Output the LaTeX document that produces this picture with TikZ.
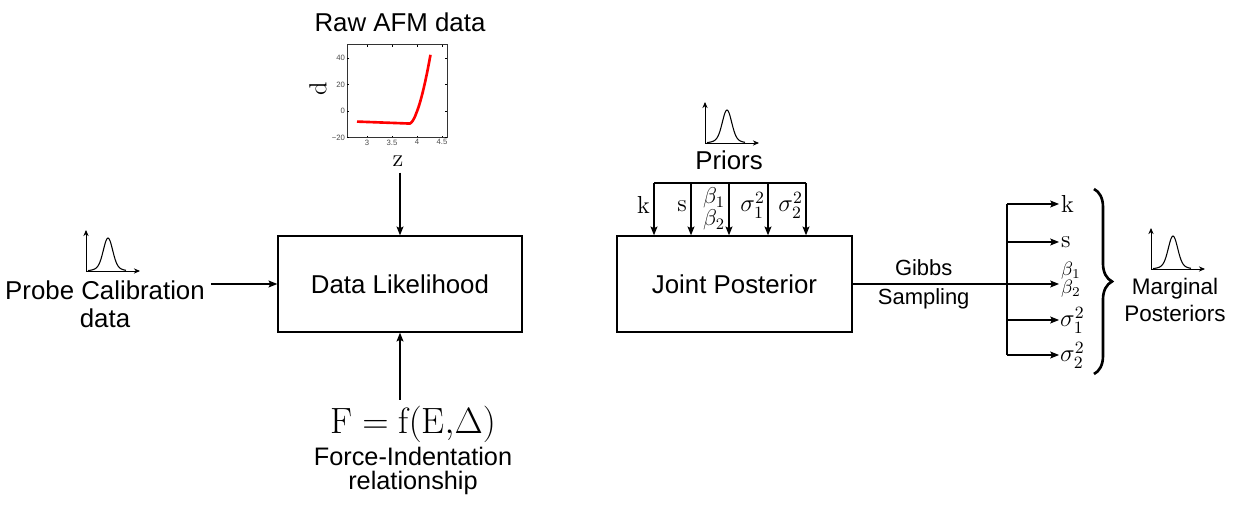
\RequirePackage{fix-cm}
\documentclass[tikz,border=0pt]{standalone}
\usepackage{fontspec}
\setsansfont{Liberation Sans}
\usetikzlibrary{arrows.meta,positioning,decorations.pathreplacing}

\tikzset{
	arr/.style = {-{Stealth[length=5pt,width=4pt,inset=1pt]}, line width=0.6pt},
	block/.style = {draw, line width=0.85pt, minimum width=4.88cm, minimum height=1.92cm, font=\sffamily\fontsize{14.7}{16}\selectfont},
	txt/.style = {font=\sffamily\fontsize{14.7}{15.9}\selectfont, align=center},
	sym/.style = {font=\fontsize{14}{15}\selectfont, inner sep=1pt},
	ticklbl/.style = {font=\sffamily\fontsize{4.4}{5}\selectfont, text=black!70, inner sep=1pt},
	density/.pic = {
		\draw [-{Stealth[length=3.5pt,width=3pt]}, line width=0.5pt] (0,0) -- (54,0);
		\draw [-{Stealth[length=3.5pt,width=3pt]}, line width=0.5pt] (0,0) -- (0,41);
		\draw [line width=0.6pt] plot [smooth, domain=2:40, samples=39] (\x, {28*exp(-((\x-22)^2)/40.5) + 5*exp(-((\x-22)^2)/162)});
	}
}

\begin{document}
\begin{tikzpicture}[x=0.02cm, y=0.02cm]

	\useasboundingbox (0,0) rectangle (1242,-506);

	\node [block] (dl) at (400,-284) {Data Likelihood};
	\node [block, minimum width=4.7cm] (jp) at (734.5,-284) {Joint Posterior};

	% calibration input
	\node [txt] (probe) at (105,-304) {Probe Calibration\\data};
	\pic at (86,-271) {density};
	\draw [arr] (probe.east |- dl) -- (dl);

	% raw data
	\node [txt] (raw) at (400,-22) {Raw AFM data};
	\begin{scope}[shift={(367,-111)}, x=1cm, y=0.0265cm]
		\draw [line width=0.4pt, black!80] (-0.4,-20) rectangle (1.6,50);
		\foreach \t/\lab in {0/3, 0.5/3.5, 1/4, 1.5/4.5} {
			\draw [line width=0.3pt] (\t,-20) -- (\t,-18.5);
			\draw [line width=0.3pt] (\t,50) -- (\t,48.5);
			\node [ticklbl, below] at (\t,-20) {\lab};
		}
		\foreach \v/\lab in {-20/−20, 0/0, 20/20, 40/40} {
			\draw [line width=0.3pt] (-0.4,\v) -- (-0.36,\v);
			\draw [line width=0.3pt] (1.6,\v) -- (1.56,\v);
			\node [ticklbl, left] at (-0.4,\v) {\lab};
		}
		\draw [red, line width=1.5pt] plot [domain=-0.2:0.85, samples=2] (\x, {-8-1.4*(\x+0.2)})
			-- plot [domain=0.86:1.27, samples=25, smooth] (\x, {-9.5+227*(\x-0.85)^1.7});
	\end{scope}
	\node [font=\fontsize{14}{15}\selectfont] (zlab) at (398,-161) {z};
	\node [font=\fontsize{14}{15}\selectfont, rotate=90] (dlab) at (318,-89) {d};
	\draw [arr] (zlab.south -| dl) -- (dl.north);

	% model
	\node [font=\fontsize{20.8}{24}\selectfont] (force) at (413,-424) {$\mathrm{F}=\mathrm{f}(\mathrm{E}{,}\Delta)$};
	\node [txt, font=\sffamily\fontsize{14.4}{13.6}\selectfont] (fdesc) at (413,-471) {Force-Indentation\\relationship};
	\draw [arr] (force.north -| dl) -- (dl.south);

	% priors
	\node [txt] (priors) at (729,-160) {Priors};
	\pic at (705,-143) {density};
	\foreach \x [count=\i] in {654,691,729,768,806}
		\coordinate (p\i) at (\x,-183);
	\draw [line width=0.6pt] (p1) -- (p5);
	\foreach \i in {1,...,5}
		\draw [arr] (p\i) -- (p\i |- jp.north);
	\node [sym, anchor=east] (pk) at (652,-205) {k};
	\node [sym, anchor=east] (ps) at (689,-206) {s};
	\node [sym, anchor=east, align=center, font=\fontsize{13}{11.3}\selectfont] (pb) at (727,-209) {$\beta_1$\\$\beta_2$};
	\node [sym, anchor=east, inner sep=0.5pt] (psa) at (766,-205) {$\sigma_1^2$};
	\node [sym, anchor=east, inner sep=0.5pt] (psb) at (804,-205) {$\sigma_2^2$};

	% gibbs sampling
	\coordinate (split) at (1007,-284);
	\node [sym, anchor=west] (o1) at (1059,-204) {k};
	\node [sym, anchor=west] (o2) at (1059,-242) {s};
	\node [sym, anchor=west, align=center, font=\fontsize{11}{10.2}\selectfont, yshift=2.3pt] (o3) at (1059,-284) {$\beta_1$\\$\beta_2$};
	\node [sym, anchor=west, inner sep=0.5pt] (o4) at (1059,-320) {$\sigma_1^2$};
	\node [sym, anchor=west, inner sep=0.5pt] (o5) at (1059,-355) {$\sigma_2^2$};
	\draw [arr] (jp.east) -- (o3.west |- jp.east);
	\path (jp.east) -- (split)
		node [pos=0.46, above, inner sep=4.5pt, font=\sffamily\fontsize{12.5}{14}\selectfont] (gibbs) {Gibbs}
		node [pos=0.46, below, inner sep=2.5pt, font=\sffamily\fontsize{12.5}{14}\selectfont] (sampling) {Sampling};
	\draw [line width=0.6pt] (split |- o1) -- (split |- o5);
	\foreach \i in {1,2,4,5}
		\draw [arr] (split |- o\i) -- (o\i.west);

	% marginals
	\draw [decorate, decoration={brace, amplitude=0.36cm}, line width=1.5pt] (1094,-189) -- (1094,-374);
	\node [txt, font=\sffamily\fontsize{12.8}{15.3}\selectfont] (marg) at (1175,-300) {Marginal\\Posteriors};
	\pic at (1151,-269) {density};

\end{tikzpicture}
\end{document}
